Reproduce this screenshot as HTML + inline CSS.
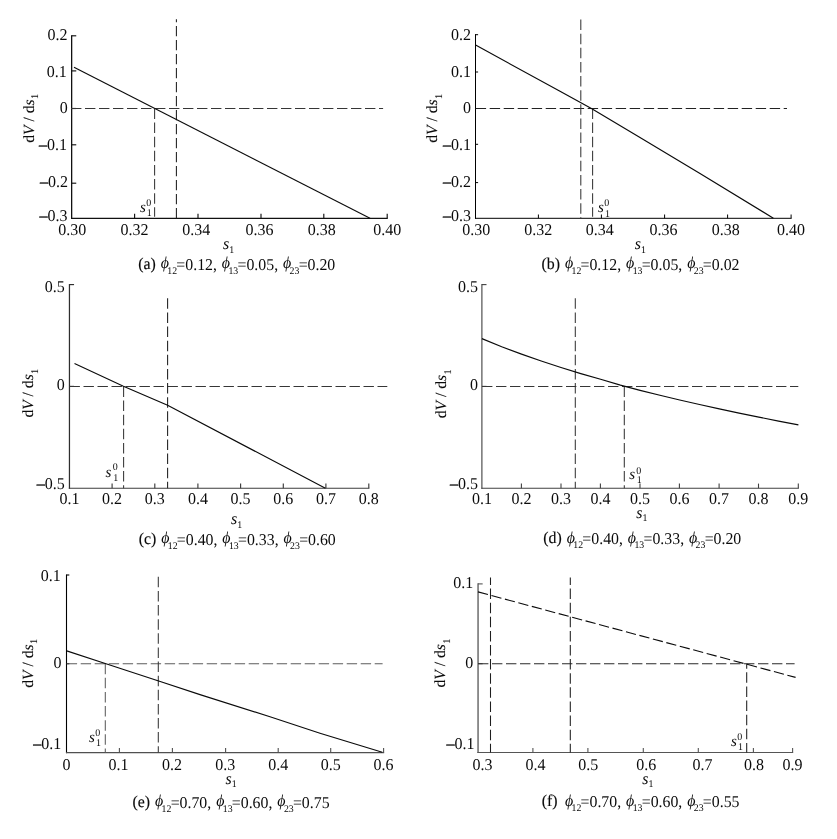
<!DOCTYPE html>
<html lang="en">
<head>
<meta charset="utf-8">
<title>dV/ds1 versus s1</title>
<style>
html,body{margin:0;padding:0;background:#fff;}
body{width:837px;height:839px;overflow:hidden;}
svg{display:block;font-family:"Liberation Serif", "DejaVu Serif", serif;font-size:16.5px;stroke:#0a0a0a;}
svg text{fill:#0a0a0a;stroke:none;text-rendering:geometricPrecision;}
svg .i{font-style:italic;}
svg .m{stroke:#0a0a0a;stroke-width:0.35px;}
svg .t{stroke:#0a0a0a;stroke-width:0.15px;}
svg .yl{stroke:#0a0a0a;stroke-width:0.08px;}
svg .sub{font-size:10.23px;}
</style>
</head>
<body>
<svg width="837" height="839" viewBox="0 0 837 839">
<rect width="837" height="839" fill="#fff" stroke="none"/>
<!-- panel a -->
<line x1="71.65" y1="35.22" x2="71.65" y2="218.92" stroke-width="1.3" stroke="#111"/>
<line x1="71" y1="218.35" x2="387.77" y2="218.35" stroke-width="1.15" stroke="#111"/>
<line x1="71.65" y1="35.8" x2="76.25" y2="35.8" stroke-width="1.15" stroke="#111"/>
<text transform="translate(67.6 40.1) scale(0.97 1)" text-anchor="end">0.2</text>
<line x1="71.65" y1="70.9" x2="76.25" y2="70.9" stroke-width="1.15" stroke="#111"/>
<text transform="translate(66.7 76.5) scale(0.97 1)" text-anchor="end">0.1</text>
<line x1="71.65" y1="108.5" x2="76.25" y2="108.5" stroke-width="1.15" stroke="#111"/>
<text transform="translate(67.7 112.9) scale(0.97 1)" text-anchor="end">0</text>
<line x1="71.65" y1="144.8" x2="76.25" y2="144.8" stroke-width="1.15" stroke="#111"/>
<text transform="translate(67 150.1) scale(0.97 1)" text-anchor="end"><tspan class="m">–</tspan>0.1</text>
<line x1="71.65" y1="183.2" x2="76.25" y2="183.2" stroke-width="1.15" stroke="#111"/>
<text transform="translate(68 186.5) scale(0.97 1)" text-anchor="end"><tspan class="m">–</tspan>0.2</text>
<text transform="translate(67.6 221.4) scale(0.97 1)" text-anchor="end"><tspan class="m">–</tspan>0.3</text>
<text transform="translate(72.3 234.55) scale(0.97 1)" text-anchor="middle">0.30</text>
<line x1="134.6" y1="218.35" x2="134.6" y2="213.75" stroke-width="1.15" stroke="#111"/>
<text transform="translate(134.6 234.55) scale(0.97 1)" text-anchor="middle">0.32</text>
<line x1="198" y1="218.35" x2="198" y2="213.75" stroke-width="1.15" stroke="#111"/>
<text transform="translate(196.3 234.55) scale(0.97 1)" text-anchor="middle">0.34</text>
<line x1="261" y1="218.35" x2="261" y2="213.75" stroke-width="1.15" stroke="#111"/>
<text transform="translate(259.5 234.55) scale(0.97 1)" text-anchor="middle">0.36</text>
<line x1="323.8" y1="218.35" x2="323.8" y2="213.75" stroke-width="1.15" stroke="#111"/>
<text transform="translate(321.8 234.55) scale(0.97 1)" text-anchor="middle">0.38</text>
<line x1="387.2" y1="218.35" x2="387.2" y2="213.75" stroke-width="1.15" stroke="#111"/>
<text transform="translate(387.3 234.55) scale(0.97 1)" text-anchor="middle">0.40</text>
<line x1="71" y1="108.5" x2="383.1" y2="108.5" stroke-width="1.05" stroke-dasharray="10.4 3.6" stroke="#363636"/>
<line x1="154.6" y1="108.5" x2="154.6" y2="216.85" stroke-width="1.05" stroke-dasharray="10.5 3.62" stroke="#363636"/>
<line x1="176.4" y1="218.35" x2="176.4" y2="19.2" stroke-width="1.05" stroke-dasharray="10.4 3.6" stroke="#1e1e1e"/>
<line x1="74" y1="67.2" x2="370" y2="218.35" stroke-width="1.15"/>
<text class="yl" transform="translate(33.5 118.4) rotate(-90)" font-size="15.6" text-anchor="middle">d<tspan class="i">V</tspan> / d<tspan class="i">s</tspan><tspan class="sub" dx="0.4" dy="4.6">1</tspan></text>
<text transform="translate(223 249.2) scale(0.97 1)"><tspan class="i">s</tspan><tspan class="sub" dy="3.5">1</tspan></text>
<text transform="translate(139.9 212) scale(0.97 1)" font-size="15.5"><tspan class="i">s</tspan><tspan font-size="10.3" dx="0.5" dy="-6.4">0</tspan><tspan font-size="10.3" dx="-4.6" dy="10.3">1</tspan></text>
<text transform="translate(138.2 269.7) scale(0.96 1)"><tspan class="t" dy="-1">(a)</tspan><tspan dy="1"> </tspan><tspan class="i" dx="1" dy="-1.8">ϕ</tspan><tspan class="sub" dx="-1.7" dy="5.9">12</tspan><tspan dx="-0.8" dy="-4.1">=0.12</tspan>, <tspan class="i" dx="1" dy="-1.8">ϕ</tspan><tspan class="sub" dx="-1.7" dy="5.9">13</tspan><tspan dx="-0.8" dy="-4.1">=0.05</tspan>, <tspan class="i" dx="1" dy="-1.8">ϕ</tspan><tspan class="sub" dx="-1.7" dy="5.9">23</tspan><tspan dx="-0.8" dy="-4.1">=0.20</tspan></text>
<!-- panel b -->
<line x1="475.5" y1="34.1" x2="475.5" y2="218.8" stroke-width="1" stroke="#000"/>
<line x1="475" y1="218.3" x2="791.6" y2="218.3" stroke-width="1" stroke="#000"/>
<line x1="475.5" y1="34.7" x2="478.1" y2="34.7" stroke-width="1" stroke="#000"/>
<text transform="translate(471 40.1) scale(0.97 1)" text-anchor="end">0.2</text>
<line x1="475.5" y1="72" x2="478.1" y2="72" stroke-width="1" stroke="#000"/>
<text transform="translate(471 76.5) scale(0.97 1)" text-anchor="end">0.1</text>
<line x1="475.5" y1="108.5" x2="478.1" y2="108.5" stroke-width="1" stroke="#000"/>
<text transform="translate(471 112.9) scale(0.97 1)" text-anchor="end">0</text>
<line x1="475.5" y1="144.3" x2="478.1" y2="144.3" stroke-width="1" stroke="#000"/>
<text transform="translate(471 150.2) scale(0.97 1)" text-anchor="end"><tspan class="m">–</tspan>0.1</text>
<line x1="475.5" y1="182.6" x2="478.1" y2="182.6" stroke-width="1" stroke="#000"/>
<text transform="translate(471 186.6) scale(0.97 1)" text-anchor="end"><tspan class="m">–</tspan>0.2</text>
<text transform="translate(471 220.6) scale(0.97 1)" text-anchor="end"><tspan class="m">–</tspan>0.3</text>
<text transform="translate(476.2 234.5) scale(0.97 1)" text-anchor="middle">0.30</text>
<line x1="538.4" y1="218.3" x2="538.4" y2="214.5" stroke-width="1" stroke="#000"/>
<text transform="translate(538.2 234.5) scale(0.97 1)" text-anchor="middle">0.32</text>
<line x1="601.4" y1="218.3" x2="601.4" y2="214.5" stroke-width="1" stroke="#000"/>
<text transform="translate(599.8 234.5) scale(0.97 1)" text-anchor="middle">0.34</text>
<line x1="664.6" y1="218.3" x2="664.6" y2="214.5" stroke-width="1" stroke="#000"/>
<text transform="translate(663.6 234.5) scale(0.97 1)" text-anchor="middle">0.36</text>
<line x1="727.6" y1="218.3" x2="727.6" y2="214.5" stroke-width="1" stroke="#000"/>
<text transform="translate(725.7 234.5) scale(0.97 1)" text-anchor="middle">0.38</text>
<line x1="791.1" y1="218.3" x2="791.1" y2="214.5" stroke-width="1" stroke="#000"/>
<text transform="translate(791.1 234.5) scale(0.97 1)" text-anchor="middle">0.40</text>
<line x1="475.7" y1="108.5" x2="787" y2="108.5" stroke-width="1.05" stroke-dasharray="10.4 3.6" stroke="#222"/>
<line x1="580.8" y1="19.6" x2="580.8" y2="218.3" stroke-width="1.05" stroke-dasharray="10.5 3.62" stroke="#363636"/>
<line x1="592.6" y1="108.5" x2="592.6" y2="216.8" stroke-width="1.05" stroke-dasharray="10.5 3.62" stroke="#363636"/>
<path d="M475.6 45.1 L560 91.3 L591.4 108.6 L640 137.4 L700 173.6 L773.4 218.2" fill="none" stroke-width="1.15"/>
<text class="yl" transform="translate(437.1 118.4) rotate(-90)" font-size="15.6" text-anchor="middle">d<tspan class="i">V</tspan> / d<tspan class="i">s</tspan><tspan class="sub" dx="0.4" dy="4.6">1</tspan></text>
<text transform="translate(634.8 249.4) scale(0.97 1)"><tspan class="i">s</tspan><tspan class="sub" dy="3.5">1</tspan></text>
<text transform="translate(598 212) scale(0.97 1)" font-size="15.5"><tspan class="i">s</tspan><tspan font-size="10.3" dx="0.5" dy="-5.7">0</tspan><tspan font-size="10.3" dx="-4.6" dy="10.5">1</tspan></text>
<text transform="translate(541.5 269.7) scale(0.96 1)"><tspan class="t" dy="-1">(b)</tspan><tspan dy="1"> </tspan><tspan class="i" dx="1" dy="-1.8">ϕ</tspan><tspan class="sub" dx="-1.7" dy="5.9">12</tspan><tspan dx="-0.8" dy="-4.1">=0.12</tspan>, <tspan class="i" dx="1" dy="-1.8">ϕ</tspan><tspan class="sub" dx="-1.7" dy="5.9">13</tspan><tspan dx="-0.8" dy="-4.1">=0.05</tspan>, <tspan class="i" dx="1" dy="-1.8">ϕ</tspan><tspan class="sub" dx="-1.7" dy="5.9">23</tspan><tspan dx="-0.8" dy="-4.1">=0.02</tspan></text>
<!-- panel c -->
<line x1="69.45" y1="284.03" x2="69.45" y2="488.77" stroke-width="1.25" stroke="#2e2e2e"/>
<line x1="68.83" y1="488.2" x2="369.38" y2="488.2" stroke-width="1.15" stroke="#3c3c3c"/>
<line x1="69.45" y1="284.6" x2="74.05" y2="284.6" stroke-width="1.15" stroke="#2e2e2e"/>
<text transform="translate(64.75 291.7) scale(0.97 1)" text-anchor="end">0.5</text>
<line x1="69.45" y1="386.4" x2="74.05" y2="386.4" stroke-width="1.15" stroke="#2e2e2e"/>
<text transform="translate(64.75 390.4) scale(0.97 1)" text-anchor="end">0</text>
<text transform="translate(64.75 488.6) scale(0.97 1)" text-anchor="end"><tspan class="m">–</tspan>0.5</text>
<text transform="translate(69.45 504.4) scale(0.97 1)" text-anchor="middle">0.1</text>
<line x1="112.1" y1="488.2" x2="112.1" y2="483.6" stroke-width="1.15" stroke="#3c3c3c"/>
<text transform="translate(112.1 504.4) scale(0.97 1)" text-anchor="middle">0.2</text>
<line x1="154.8" y1="488.2" x2="154.8" y2="483.6" stroke-width="1.15" stroke="#3c3c3c"/>
<text transform="translate(154.8 504.4) scale(0.97 1)" text-anchor="middle">0.3</text>
<line x1="197.9" y1="488.2" x2="197.9" y2="483.6" stroke-width="1.15" stroke="#3c3c3c"/>
<text transform="translate(197.9 504.4) scale(0.97 1)" text-anchor="middle">0.4</text>
<line x1="240.6" y1="488.2" x2="240.6" y2="483.6" stroke-width="1.15" stroke="#3c3c3c"/>
<text transform="translate(240.6 504.4) scale(0.97 1)" text-anchor="middle">0.5</text>
<line x1="283.3" y1="488.2" x2="283.3" y2="483.6" stroke-width="1.15" stroke="#3c3c3c"/>
<text transform="translate(283.3 504.4) scale(0.97 1)" text-anchor="middle">0.6</text>
<line x1="325.9" y1="488.2" x2="325.9" y2="483.6" stroke-width="1.15" stroke="#3c3c3c"/>
<text transform="translate(325.9 504.4) scale(0.97 1)" text-anchor="middle">0.7</text>
<line x1="368.8" y1="488.2" x2="368.8" y2="483.6" stroke-width="1.15" stroke="#3c3c3c"/>
<text transform="translate(368.8 504.4) scale(0.97 1)" text-anchor="middle">0.8</text>
<line x1="69.5" y1="386.4" x2="387.3" y2="386.4" stroke-width="1.05" stroke-dasharray="10.4 3.6" stroke="#363636"/>
<line x1="123.6" y1="386.4" x2="123.6" y2="488.2" stroke-width="1.05" stroke-dasharray="10.5 3.62" stroke="#363636"/>
<line x1="167.6" y1="298.3" x2="167.6" y2="488.2" stroke-width="1.05" stroke-dasharray="10.5 3.62" stroke="#1e1e1e"/>
<path d="M74.5 363.6 L123.4 386.2 L167.6 405.3 L325.4 488.2" fill="none" stroke-width="1.15"/>
<text class="yl" transform="translate(33.3 393.2) rotate(-90)" font-size="15.6" text-anchor="middle">d<tspan class="i">V</tspan> / d<tspan class="i">s</tspan><tspan class="sub" dx="0.4" dy="4.6">1</tspan></text>
<text transform="translate(231 524) scale(0.97 1)"><tspan class="i">s</tspan><tspan class="sub" dy="3.5">1</tspan></text>
<text transform="translate(105.5 476.5) scale(0.97 1)" font-size="15.5"><tspan class="i">s</tspan><tspan font-size="10.3" dx="1.5" dy="-6.4">0</tspan><tspan font-size="10.3" dx="-4.6" dy="11.3">1</tspan></text>
<text transform="translate(138.7 545.2) scale(0.96 1)"><tspan class="t" dy="-1">(c)</tspan><tspan dy="1"> </tspan><tspan class="i" dx="1" dy="-1.8">ϕ</tspan><tspan class="sub" dx="-1.7" dy="5.9">12</tspan><tspan dx="-0.8" dy="-4.1">=0.40</tspan>, <tspan class="i" dx="1" dy="-1.8">ϕ</tspan><tspan class="sub" dx="-1.7" dy="5.9">13</tspan><tspan dx="-0.8" dy="-4.1">=0.33</tspan>, <tspan class="i" dx="1" dy="-1.8">ϕ</tspan><tspan class="sub" dx="-1.7" dy="5.9">23</tspan><tspan dx="-0.8" dy="-4.1">=0.60</tspan></text>
<!-- panel d -->
<line x1="481.9" y1="284.05" x2="481.9" y2="488.75" stroke-width="1.1" stroke="#404040"/>
<line x1="481.35" y1="488.2" x2="798.85" y2="488.2" stroke-width="1.1" stroke="#404040"/>
<line x1="481.9" y1="284.6" x2="486.5" y2="284.6" stroke-width="1.1" stroke="#404040"/>
<text transform="translate(477.9 291.7) scale(0.97 1)" text-anchor="end">0.5</text>
<line x1="481.9" y1="386.4" x2="486.5" y2="386.4" stroke-width="1.1" stroke="#404040"/>
<text transform="translate(477.9 390.4) scale(0.97 1)" text-anchor="end">0</text>
<text transform="translate(477.9 489.4) scale(0.97 1)" text-anchor="end"><tspan class="m">–</tspan>0.5</text>
<text transform="translate(481.9 504.4) scale(0.97 1)" text-anchor="middle">0.1</text>
<line x1="521.4" y1="488.2" x2="521.4" y2="483.6" stroke-width="1.1" stroke="#404040"/>
<text transform="translate(521.4 504.4) scale(0.97 1)" text-anchor="middle">0.2</text>
<line x1="561" y1="488.2" x2="561" y2="483.6" stroke-width="1.1" stroke="#404040"/>
<text transform="translate(561 504.4) scale(0.97 1)" text-anchor="middle">0.3</text>
<line x1="600.4" y1="488.2" x2="600.4" y2="483.6" stroke-width="1.1" stroke="#404040"/>
<text transform="translate(600.4 504.4) scale(0.97 1)" text-anchor="middle">0.4</text>
<line x1="640" y1="488.2" x2="640" y2="483.6" stroke-width="1.1" stroke="#404040"/>
<text transform="translate(640 504.4) scale(0.97 1)" text-anchor="middle">0.5</text>
<line x1="679.4" y1="488.2" x2="679.4" y2="483.6" stroke-width="1.1" stroke="#404040"/>
<text transform="translate(679.4 504.4) scale(0.97 1)" text-anchor="middle">0.6</text>
<line x1="719.1" y1="488.2" x2="719.1" y2="483.6" stroke-width="1.1" stroke="#404040"/>
<text transform="translate(719.1 504.4) scale(0.97 1)" text-anchor="middle">0.7</text>
<line x1="758.5" y1="488.2" x2="758.5" y2="483.6" stroke-width="1.1" stroke="#404040"/>
<text transform="translate(758.5 504.4) scale(0.97 1)" text-anchor="middle">0.8</text>
<line x1="798.3" y1="488.2" x2="798.3" y2="483.6" stroke-width="1.1" stroke="#404040"/>
<text transform="translate(798.3 504.4) scale(0.97 1)" text-anchor="middle">0.9</text>
<line x1="482" y1="386.4" x2="798.3" y2="386.4" stroke-width="1.05" stroke-dasharray="10.4 3.6" stroke="#363636"/>
<line x1="575.3" y1="298.3" x2="575.3" y2="488.2" stroke-width="1.05" stroke-dasharray="10.5 3.62" stroke="#363636"/>
<line x1="624.3" y1="386.4" x2="624.3" y2="488.2" stroke-width="1.05" stroke-dasharray="10.5 3.62" stroke="#363636"/>
<path d="M481.9 338.6 L501.7 346.8 L521.5 354.1 L541.2 361 L561 367.5 L580.8 373.6 L600.6 379.3 L620.4 385.1 L640.1 390.4 L659.9 395.3 L679.7 400 L699.5 404.5 L719.3 408.9 L739.1 413.1 L758.8 417.1 L778.6 421.1 L798.4 424.9" fill="none" stroke-width="1.15"/>
<text class="yl" transform="translate(446.3 393.9) rotate(-90)" font-size="15.6" text-anchor="middle">d<tspan class="i">V</tspan> / d<tspan class="i">s</tspan><tspan class="sub" dx="0.4" dy="4.6">1</tspan></text>
<text transform="translate(636.3 517.6) scale(0.97 1)"><tspan class="i">s</tspan><tspan class="sub" dy="3.5">1</tspan></text>
<text transform="translate(629.2 478.8) scale(0.97 1)" font-size="15.5"><tspan class="i">s</tspan><tspan font-size="10.3" dx="1.3" dy="-5.2">0</tspan><tspan font-size="10.3" dx="-4.6" dy="9.1">1</tspan></text>
<text transform="translate(543.3 544.3) scale(0.96 1)"><tspan class="t" dy="-1">(d)</tspan><tspan dy="1"> </tspan><tspan class="i" dx="1" dy="-1.8">ϕ</tspan><tspan class="sub" dx="-1.7" dy="5.9">12</tspan><tspan dx="-0.8" dy="-4.1">=0.40</tspan>, <tspan class="i" dx="1" dy="-1.8">ϕ</tspan><tspan class="sub" dx="-1.7" dy="5.9">13</tspan><tspan dx="-0.8" dy="-4.1">=0.33</tspan>, <tspan class="i" dx="1" dy="-1.8">ϕ</tspan><tspan class="sub" dx="-1.7" dy="5.9">23</tspan><tspan dx="-0.8" dy="-4.1">=0.20</tspan></text>
<!-- panel e -->
<line x1="66.5" y1="574.45" x2="66.5" y2="753.15" stroke-width="1.1" stroke="#000"/>
<line x1="65.95" y1="752.6" x2="384.15" y2="752.6" stroke-width="1.1" stroke="#505050"/>
<line x1="66.5" y1="575" x2="69.3" y2="575" stroke-width="1.1" stroke="#000"/>
<text transform="translate(60.8 581) scale(0.97 1)" text-anchor="end">0.1</text>
<line x1="66.5" y1="663.7" x2="69.3" y2="663.7" stroke-width="1.1" stroke="#000"/>
<text transform="translate(61.4 668.4) scale(0.97 1)" text-anchor="end">0</text>
<text transform="translate(61.2 748.8) scale(0.97 1)" text-anchor="end"><tspan class="m">–</tspan>0.1</text>
<text transform="translate(66.5 770) scale(0.97 1)" text-anchor="middle">0</text>
<line x1="119.4" y1="752.6" x2="119.4" y2="748" stroke-width="1.1" stroke="#505050"/>
<text transform="translate(118.4 770) scale(0.97 1)" text-anchor="middle">0.1</text>
<line x1="172.4" y1="752.6" x2="172.4" y2="748" stroke-width="1.1" stroke="#505050"/>
<text transform="translate(172 770) scale(0.97 1)" text-anchor="middle">0.2</text>
<line x1="225.6" y1="752.6" x2="225.6" y2="748" stroke-width="1.1" stroke="#505050"/>
<text transform="translate(225.2 770) scale(0.97 1)" text-anchor="middle">0.3</text>
<line x1="278.2" y1="752.6" x2="278.2" y2="748" stroke-width="1.1" stroke="#505050"/>
<text transform="translate(278.2 770) scale(0.97 1)" text-anchor="middle">0.4</text>
<line x1="330.7" y1="752.6" x2="330.7" y2="748" stroke-width="1.1" stroke="#505050"/>
<text transform="translate(330.7 770) scale(0.97 1)" text-anchor="middle">0.5</text>
<line x1="383.6" y1="752.6" x2="383.6" y2="748" stroke-width="1.1" stroke="#505050"/>
<text transform="translate(383.6 770) scale(0.97 1)" text-anchor="middle">0.6</text>
<line x1="66.7" y1="663.7" x2="382.6" y2="663.7" stroke-width="1.05" stroke-dasharray="10.4 3.6" stroke="#5c5c5c"/>
<line x1="105.3" y1="663.7" x2="105.3" y2="752.6" stroke-width="1.05" stroke-dasharray="10.5 3.62" stroke="#5c5c5c"/>
<line x1="158.3" y1="576.8" x2="158.3" y2="752.6" stroke-width="1.05" stroke-dasharray="10.5 3.62" stroke="#363636"/>
<path d="M66.7 650.9 L106 663.7 L158.7 681 L200 694.6 L270 716.8 L320 733.2 L382.3 752.3" fill="none" stroke-width="1.15"/>
<text class="yl" transform="translate(32.7 663.4) rotate(-90)" font-size="15.6" text-anchor="middle">d<tspan class="i">V</tspan> / d<tspan class="i">s</tspan><tspan class="sub" dx="0.4" dy="4.6">1</tspan></text>
<text transform="translate(225.6 783.8) scale(0.97 1)"><tspan class="i">s</tspan><tspan class="sub" dy="3.5">1</tspan></text>
<text transform="translate(89 742) scale(0.97 1)" font-size="15.5"><tspan class="i">s</tspan><tspan font-size="10.3" dx="0.5" dy="-6.4">0</tspan><tspan font-size="10.3" dx="-4.6" dy="10.3">1</tspan></text>
<text transform="translate(132.5 808) scale(0.96 1)"><tspan class="t" dy="-1">(e)</tspan><tspan dy="1"> </tspan><tspan class="i" dx="1" dy="-1.8">ϕ</tspan><tspan class="sub" dx="-1.7" dy="5.9">12</tspan><tspan dx="-0.8" dy="-4.1">=0.70</tspan>, <tspan class="i" dx="1" dy="-1.8">ϕ</tspan><tspan class="sub" dx="-1.7" dy="5.9">13</tspan><tspan dx="-0.8" dy="-4.1">=0.60</tspan>, <tspan class="i" dx="1" dy="-1.8">ϕ</tspan><tspan class="sub" dx="-1.7" dy="5.9">23</tspan><tspan dx="-0.8" dy="-4.1">=0.75</tspan></text>
<!-- panel f -->
<line x1="478.05" y1="583.35" x2="478.05" y2="753.05" stroke-width="1.3" stroke="#555"/>
<line x1="477.4" y1="752.5" x2="793.15" y2="752.5" stroke-width="1.1" stroke="#555"/>
<line x1="478.05" y1="583.9" x2="482.65" y2="583.9" stroke-width="1.1" stroke="#555"/>
<text transform="translate(473.35 587.8) scale(0.97 1)" text-anchor="end">0.1</text>
<line x1="478.05" y1="663.7" x2="482.65" y2="663.7" stroke-width="1.1" stroke="#555"/>
<text transform="translate(473.35 668.4) scale(0.97 1)" text-anchor="end">0</text>
<text transform="translate(474.6 748.8) scale(0.97 1)" text-anchor="end"><tspan class="m">–</tspan>0.1</text>
<text transform="translate(482.5 770.2) scale(0.97 1)" text-anchor="middle">0.3</text>
<line x1="532.9" y1="752.5" x2="532.9" y2="747.9" stroke-width="1.1" stroke="#555"/>
<text transform="translate(535.6 770.2) scale(0.97 1)" text-anchor="middle">0.4</text>
<line x1="587.9" y1="752.5" x2="587.9" y2="747.9" stroke-width="1.1" stroke="#555"/>
<text transform="translate(588.3 770.2) scale(0.97 1)" text-anchor="middle">0.5</text>
<line x1="643.3" y1="752.5" x2="643.3" y2="747.9" stroke-width="1.1" stroke="#555"/>
<text transform="translate(646.2 770.2) scale(0.97 1)" text-anchor="middle">0.6</text>
<line x1="698.3" y1="752.5" x2="698.3" y2="747.9" stroke-width="1.1" stroke="#555"/>
<text transform="translate(702.6 770.2) scale(0.97 1)" text-anchor="middle">0.7</text>
<line x1="753.4" y1="752.5" x2="753.4" y2="747.9" stroke-width="1.1" stroke="#555"/>
<text transform="translate(754.1 770.2) scale(0.97 1)" text-anchor="middle">0.8</text>
<line x1="792.6" y1="752.5" x2="792.6" y2="747.9" stroke-width="1.1" stroke="#555"/>
<text transform="translate(792.4 770.2) scale(0.97 1)" text-anchor="middle">0.9</text>
<line x1="478" y1="663.7" x2="794.6" y2="663.7" stroke-width="1.05" stroke-dasharray="10.4 3.6" stroke="#2a2a2a"/>
<line x1="490.5" y1="577.6" x2="490.5" y2="752.5" stroke-width="1.05" stroke-dasharray="10.5 3.62" stroke-dashoffset="3.2" stroke="#1e1e1e"/>
<line x1="570.3" y1="577.6" x2="570.3" y2="752.5" stroke-width="1.05" stroke-dasharray="10.5 3.62" stroke-dashoffset="3.2" stroke="#1e1e1e"/>
<line x1="746.7" y1="663.7" x2="746.7" y2="752.5" stroke-width="1.05" stroke-dasharray="10.5 3.62" stroke-dashoffset="5.5" stroke="#1e1e1e"/>
<line x1="478" y1="591.9" x2="795.6" y2="677.4" stroke-width="1.1" stroke-dasharray="10.3 3.63"/>
<text class="yl" transform="translate(444.9 663) rotate(-90)" font-size="15.6" text-anchor="middle">d<tspan class="i">V</tspan> / d<tspan class="i">s</tspan><tspan class="sub" dx="0.4" dy="4.6">1</tspan></text>
<text transform="translate(642.2 783.8) scale(0.97 1)"><tspan class="i">s</tspan><tspan class="sub" dy="3.5">1</tspan></text>
<text transform="translate(731 746.1) scale(0.97 1)" font-size="15.5"><tspan class="i">s</tspan><tspan font-size="10.3" dx="0.5" dy="-6.4">0</tspan><tspan font-size="10.3" dx="-4.6" dy="10.3">1</tspan></text>
<text transform="translate(541.7 807.3) scale(0.96 1)"><tspan class="t" dy="-1">(f)</tspan><tspan dy="1" dx="2.6"> </tspan><tspan class="i" dx="1" dy="-1.8">ϕ</tspan><tspan class="sub" dx="-1.7" dy="5.9">12</tspan><tspan dx="-0.8" dy="-4.1">=0.70</tspan>, <tspan class="i" dx="1" dy="-1.8">ϕ</tspan><tspan class="sub" dx="-1.7" dy="5.9">13</tspan><tspan dx="-0.8" dy="-4.1">=0.60</tspan>, <tspan class="i" dx="1" dy="-1.8">ϕ</tspan><tspan class="sub" dx="-1.7" dy="5.9">23</tspan><tspan dx="-0.8" dy="-4.1">=0.55</tspan></text>
</svg>
</body>
</html>
